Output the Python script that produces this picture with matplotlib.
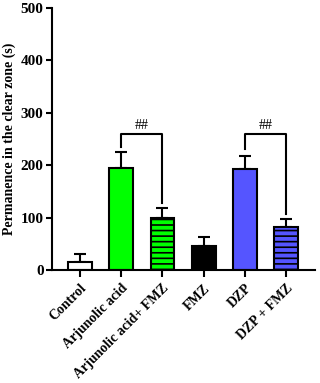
import numpy as np
import matplotlib.pyplot as plt

# data
groups = ['Control', 'Arjunolic acid', 'Arjunolic acid+ FMZ', 'FMZ', 'DZP', 'DZP + FMZ']
means = [15, 195, 99, 46, 193, 82]
sems = [15, 30, 19, 17, 24, 15]
colors = ['white', '#00ff00', '#00ff00', 'black', '#5555ff', '#5555ff']
hatches = ['', '', '---', '', '', '---']
# significance brackets: (left bar, right bar, label)
brackets = [(1, 2, '##'), (4, 5, '##')]
bracket_top = 260
bracket_legs = [(235, 128), (231, 107)]

plt.rcParams['font.family'] = ['Liberation Serif', 'DejaVu Serif']
plt.rcParams['font.weight'] = 'bold'
plt.rcParams['hatch.linewidth'] = 1.2

fig = plt.figure(figsize=(3.2, 3.83), dpi=100)
ax = fig.add_axes([52 / 320, 1 - 270 / 383, (315 - 52) / 320, (270 - 8) / 383])

x = np.arange(len(groups))
for i in range(len(groups)):
    ax.bar(x[i], means[i], width=0.58, color=colors[i], edgecolor='black',
           linewidth=1.5, hatch=hatches[i], zorder=2)
ax.errorbar(x, means, yerr=[np.zeros(len(sems)), sems], fmt='none',
            ecolor='black', elinewidth=1.5, capsize=4.5, capthick=1.5, zorder=1)

for (a, b, lab), (la, lb) in zip(brackets, bracket_legs):
    ax.plot([a, a, b, b], [la, bracket_top, bracket_top, lb], color='black', lw=1.5)
    ax.text((a + b) / 2, bracket_top + 4, lab, ha='center', va='bottom',
            fontsize=10, fontweight='normal')

ax.set_xlim(-0.68, 5.7)
ax.set_ylim(0, 500)
ax.set_yticks([0, 100, 200, 300, 400, 500])
ax.set_xticks(x)
ax.set_xticklabels(groups, rotation=45, ha='right', rotation_mode='anchor',
                   fontsize=10, fontweight='bold')
ax.tick_params(axis='y', labelsize=11, width=1.5, length=4, pad=2)
ax.tick_params(axis='x', width=1.5, length=5)
for lab in ax.get_yticklabels():
    lab.set_fontweight('bold')
ax.set_ylabel('Permanence in the clear zone (s)', fontsize=10, fontweight='bold',
              labelpad=3)
for s in ['top', 'right']:
    ax.spines[s].set_visible(False)
for s in ['left', 'bottom']:
    ax.spines[s].set_linewidth(1.5)

fig.savefig('out.png', dpi=100)
